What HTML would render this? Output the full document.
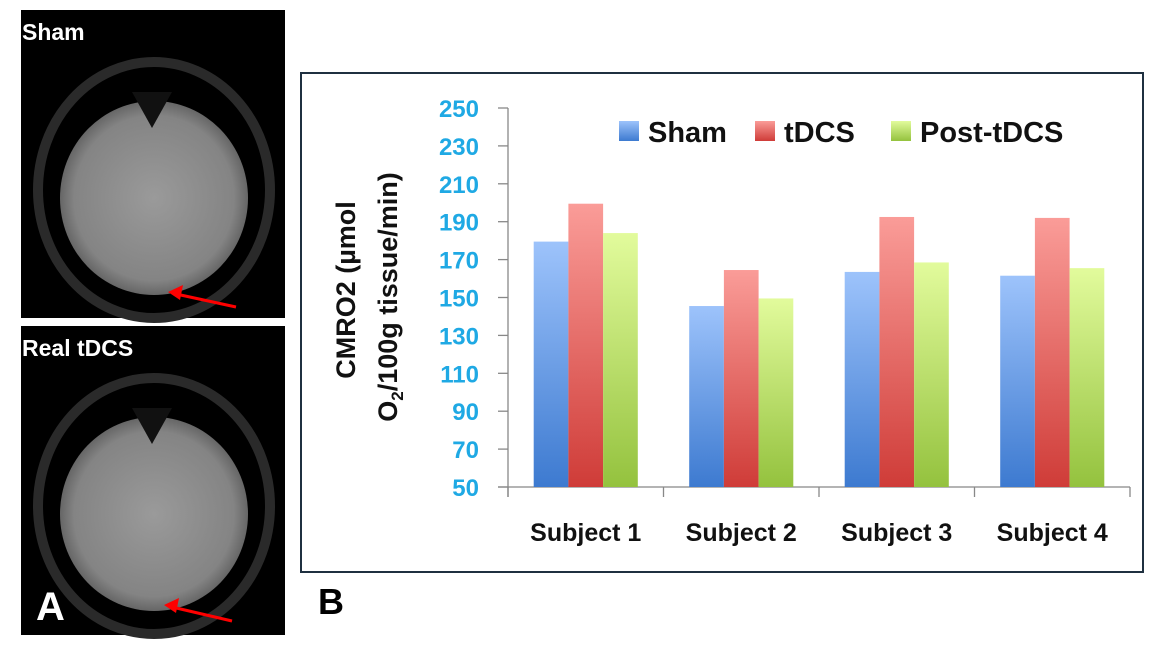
<!DOCTYPE html>
<html><head><meta charset="utf-8"><style>
body{margin:0;background:#fff;width:1159px;height:666px;overflow:hidden;font-family:"Liberation Sans",sans-serif;}
</style></head><body>
<svg width="1159" height="666" xmlns="http://www.w3.org/2000/svg">
<defs>
<linearGradient id="gb" x1="0" y1="0" x2="0" y2="1"><stop offset="0" stop-color="#9dc3fb"/><stop offset="1" stop-color="#3d7ad0"/></linearGradient>
<linearGradient id="gr" x1="0" y1="0" x2="0" y2="1"><stop offset="0" stop-color="#fa9c98"/><stop offset="1" stop-color="#cf3c38"/></linearGradient>
<linearGradient id="gg" x1="0" y1="0" x2="0" y2="1"><stop offset="0" stop-color="#e2fb9c"/><stop offset="1" stop-color="#94c23e"/></linearGradient>
<radialGradient id="brain" cx="0.5" cy="0.5" r="0.5"><stop offset="0" stop-color="#9a9a9a"/><stop offset="0.85" stop-color="#848484"/><stop offset="1" stop-color="#666"/></radialGradient>
</defs>
<g>
<rect x="21" y="10" width="264" height="308" fill="#000"/>
<ellipse cx="154" cy="190" rx="116" ry="128" fill="none" stroke="#2a2a2a" stroke-width="10"/>
<ellipse cx="154" cy="198" rx="94" ry="97" fill="url(#brain)"/>
<path d="M132 92 L152 128 L172 92 Z" fill="#111"/>
<text x="22" y="40" font-size="23" font-weight="bold" fill="#fff">Sham</text>
<line x1="236" y1="307" x2="176" y2="294" stroke="#f00" stroke-width="3"/>
<path d="M168 292 L183 285 L180 300 Z" fill="#f00"/>
</g>
<g>
<rect x="21" y="326" width="264" height="309" fill="#000"/>
<ellipse cx="154" cy="506" rx="116" ry="128" fill="none" stroke="#2a2a2a" stroke-width="10"/>
<ellipse cx="154" cy="514" rx="94" ry="97" fill="url(#brain)"/>
<path d="M132 408 L152 444 L172 408 Z" fill="#111"/>
<text x="22" y="356" font-size="23" font-weight="bold" fill="#fff">Real tDCS</text>
<text x="36" y="620" font-size="40" font-weight="bold" fill="#fff">A</text>
<line x1="232" y1="621" x2="172" y2="607" stroke="#f00" stroke-width="3"/>
<path d="M164 605 L179 598 L176 613 Z" fill="#f00"/>
</g>
<rect x="301" y="73" width="842" height="499" fill="#fff" stroke="#1f3040" stroke-width="2"/>
<text x="318" y="614" font-size="36" font-weight="bold" fill="#000">B</text>
<g id="chart"></g>
</svg>
<script>
const categories=["Subject 1","Subject 2","Subject 3","Subject 4"];
const seriesNames=["Sham","tDCS","Post-tDCS"];
const shamValues=[179.5,145.5,163.5,161.5];
const tdcsValues=[199.5,164.5,192.5,192];
const postValues=[184,149.5,168.5,165.5];
const yTicks=[50,70,90,110,130,150,170,190,210,230,250];
const NS="http://www.w3.org/2000/svg";
const g=document.getElementById('chart');
const x0=508,x1=1130,y0=487,y1=108,vmin=50,vmax=250;
const catW=(x1-x0)/categories.length;
function yS(v){return y0-(v-vmin)/(vmax-vmin)*(y0-y1);}
function xC(i){return x0+catW*(i+0.5);}
function mk(t,a){const e=document.createElementNS(NS,t);for(const k in a)e.setAttribute(k,a[k]);g.appendChild(e);return e;}
let ax=mk('line',{x1:x0,y1:y1,x2:x0,y2:y0+10,stroke:'#888','stroke-width':1.3});


let bx=mk('line',{x1:x0-10,y1:y0,x2:x1,y2:y0,stroke:'#888','stroke-width':1.3});


yTicks.forEach(v=>{
 let t=mk('line',{x1:x0-10,y1:yS(v),x2:x0,y2:yS(v),stroke:'#888','stroke-width':1.3});
 
 
 let l=mk('text',{x:x0-29,y:yS(v)+9,'text-anchor':'end','font-size':24,'font-weight':'bold',fill:'#1fa9e4'});
 l.textContent=v;
 
 
});
for(let i=0;i<=categories.length;i++){
 let t=mk('line',{x1:x0+catW*i,y1:y0,x2:x0+catW*i,y2:y0+10,stroke:'#888','stroke-width':1.3});
 
 
}
const series=[shamValues,tdcsValues,postValues];
const fills=['url(#gb)','url(#gr)','url(#gg)'];
const bw=34.7;
categories.forEach((c,i)=>{
 series.forEach((s,j)=>{
  const bxp=xC(i)-1.5*bw+j*bw;
  let r=mk('rect',{x:bxp,y:yS(s[i]),width:bw,height:y0-yS(s[i]),fill:fills[j]});
  
  
 });
 let l=mk('text',{x:xC(i),y:541,'text-anchor':'middle','font-size':25,'font-weight':'bold',fill:'#111'});
 l.textContent=c;
 
 
});
const legX=[619,755,891];
seriesNames.forEach((n,j)=>{
 let r=mk('rect',{x:legX[j],y:121,width:20,height:20,fill:fills[j]});
 
 
 let t=mk('text',{x:legX[j]+29,y:142,'font-size':29,'font-weight':'bold',fill:'#111'});
 t.textContent=n;
 
 
});
let yt=mk('text',{transform:'translate(355,290) rotate(-90)','text-anchor':'middle','font-size':27,'font-weight':'bold',fill:'#111'});
yt.textContent='CMRO2 (µmol';


let yt2=mk('text',{transform:'translate(397,297) rotate(-90)','text-anchor':'middle','font-size':27,'font-weight':'bold',fill:'#111'});
yt2.innerHTML='O<tspan font-size="17" dy="6">2</tspan><tspan dy="-6">/100g tissue/min)</tspan>';


</script>
</body></html>
